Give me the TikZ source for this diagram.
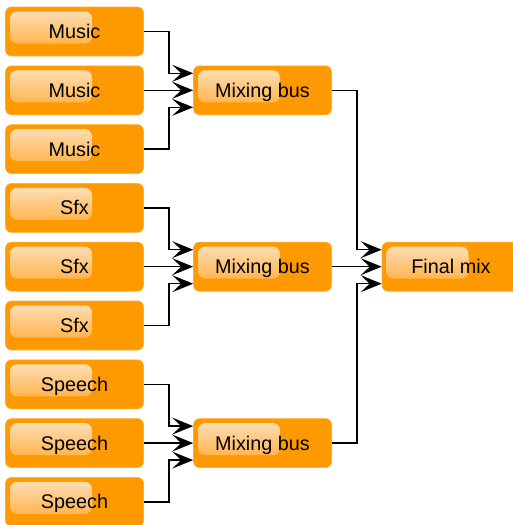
\documentclass[tikz,border=0pt]{standalone}
\usepackage{fontspec}
\setmainfont{Liberation Sans}
\usepackage{tikz}
\usetikzlibrary{arrows.meta}
\pgfdeclarelayer{nodelayer}
\pgfdeclarelayer{edgelayer}
\pgfsetlayers{edgelayer,nodelayer,main}
\definecolor{busorange}{HTML}{FF9900}
\definecolor{glosstop}{HTML}{FEE2C0}
\definecolor{glossbottom}{HTML}{FFA62A}
\tikzstyle{channel}=[fill=busorange, draw=busorange!80!white, line width=0.6pt, rounded corners=6pt,
    minimum width=138pt, minimum height=49pt, text height=14pt, text depth=0pt,
    font=\fontsize{19.8}{23}\selectfont,
    path picture={\shade [top color=glosstop, bottom color=glossbottom, rounded corners=7pt]
        ([xshift=4.5pt,yshift=-4.5pt]path picture bounding box.north west) rectangle ++(82pt,-32pt);}]
\tikzstyle{bus edge}=[line width=1.4pt, -{Stealth[length=21pt,width=17pt,inset=9pt]}]

\begin{document}
\begin{tikzpicture}
    	\useasboundingbox (0,0) rectangle (512pt,-525pt);
    	\begin{pgfonlayer}{nodelayer}
    		\node [style=channel] (0) at (74.5pt, -31.5pt) {Music};
    		\node [style=channel] (1) at (74.5pt, -90.3pt) {Music};
    		\node [style=channel] (2) at (74.5pt, -149.1pt) {Music};
    		\node [style=channel] (3) at (74.5pt, -207.9pt) {Sfx};
    		\node [style=channel] (4) at (74.5pt, -266.7pt) {Sfx};
    		\node [style=channel] (5) at (74.5pt, -325.5pt) {Sfx};
    		\node [style=channel] (6) at (74.5pt, -384.3pt) {Speech};
    		\node [style=channel] (7) at (74.5pt, -443.1pt) {Speech};
    		\node [style=channel] (8) at (74.5pt, -501.9pt) {Speech};
    		\node [style=channel] (9) at (262.5pt, -90.3pt) {Mixing bus};
    		\node [style=channel] (10) at (262.5pt, -266.7pt) {Mixing bus};
    		\node [style=channel] (11) at (262.5pt, -443.1pt) {Mixing bus};
    		\node [style=channel] (12) at (451pt, -266.7pt) {Final mix};
    	\end{pgfonlayer}
    	\begin{pgfonlayer}{edgelayer}
    		\draw [style=bus edge] (0.east) -- ++(25pt,0) |- ([yshift=17pt]9.west);
    		\draw [style=bus edge] (1.east) -- (9.west);
    		\draw [style=bus edge] (2.east) -- ++(25pt,0) |- ([yshift=-17pt]9.west);
    		\draw [style=bus edge] (3.east) -- ++(25pt,0) |- ([yshift=17pt]10.west);
    		\draw [style=bus edge] (4.east) -- (10.west);
    		\draw [style=bus edge] (5.east) -- ++(25pt,0) |- ([yshift=-17pt]10.west);
    		\draw [style=bus edge] (6.east) -- ++(25pt,0) |- ([yshift=17pt]11.west);
    		\draw [style=bus edge] (7.east) -- (11.west);
    		\draw [style=bus edge] (8.east) -- ++(25pt,0) |- ([yshift=-17pt]11.west);
    		\draw [style=bus edge] (9.east) -- ++(25pt,0) |- ([yshift=17pt]12.west);
    		\draw [style=bus edge] (10.east) -- (12.west);
    		\draw [style=bus edge] (11.east) -- ++(25pt,0) |- ([yshift=-17pt]12.west);
    	\end{pgfonlayer}
    \end{tikzpicture}
\end{document}
